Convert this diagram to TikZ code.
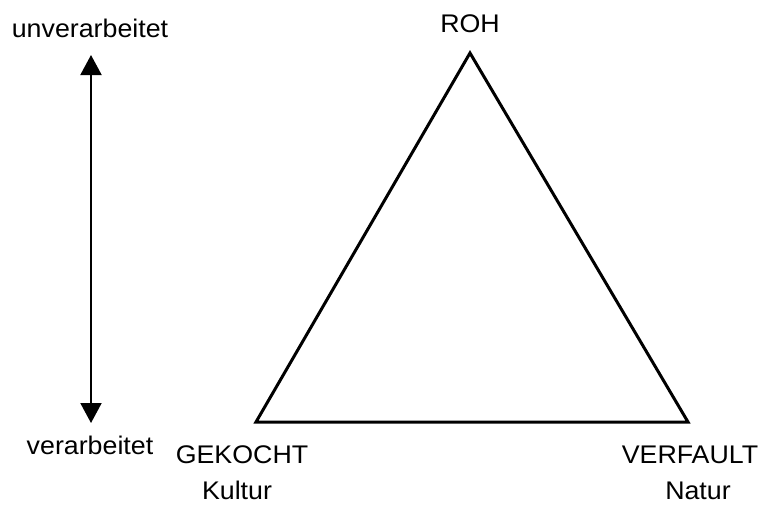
\documentclass[tikz,border=0pt]{standalone}
\usepackage{fontspec}
\setmainfont{Liberation Sans}[FakeStretch=1.05]
\usetikzlibrary{arrows.meta}
\tikzset{
  lbl/.style={anchor=base, inner sep=0pt, font=\fontsize{25.5}{30}\selectfont},
  tri/.style={line width=3pt, line join=miter},
  axisarrow/.style={line width=2pt, {Triangle[length=20pt,width=21pt]}-{Triangle[length=20pt,width=21pt]}}
}
\begin{document}
\begin{tikzpicture}[x=1pt,y=-1pt]
\useasboundingbox (0,0) rectangle (761,504);
\coordinate (roh) at (470,53);
\coordinate (gek) at (256,422);
\coordinate (verf) at (688,422);
\draw[tri] (roh) -- (gek) -- (verf) -- cycle;
\coordinate (top) at (91,55);
\coordinate (bot) at (91,423);
\draw[axisarrow] (top) -- (bot);
\node[lbl] (t1) at (90,37) {unverarbeitet};
\node[lbl] (t2) at (90,454) {verarbeitet};
\node[lbl] (t3) at (470,32) {ROH};
\node[lbl] (t4) at (242,463) {GEKOCHT};
\node[lbl] (t5) at (237,499) {Kultur};
\node[lbl] (t6) at (690,463) {VERFAULT};
\node[lbl] (t7) at (698,499) {Natur};
\end{tikzpicture}
\end{document}
